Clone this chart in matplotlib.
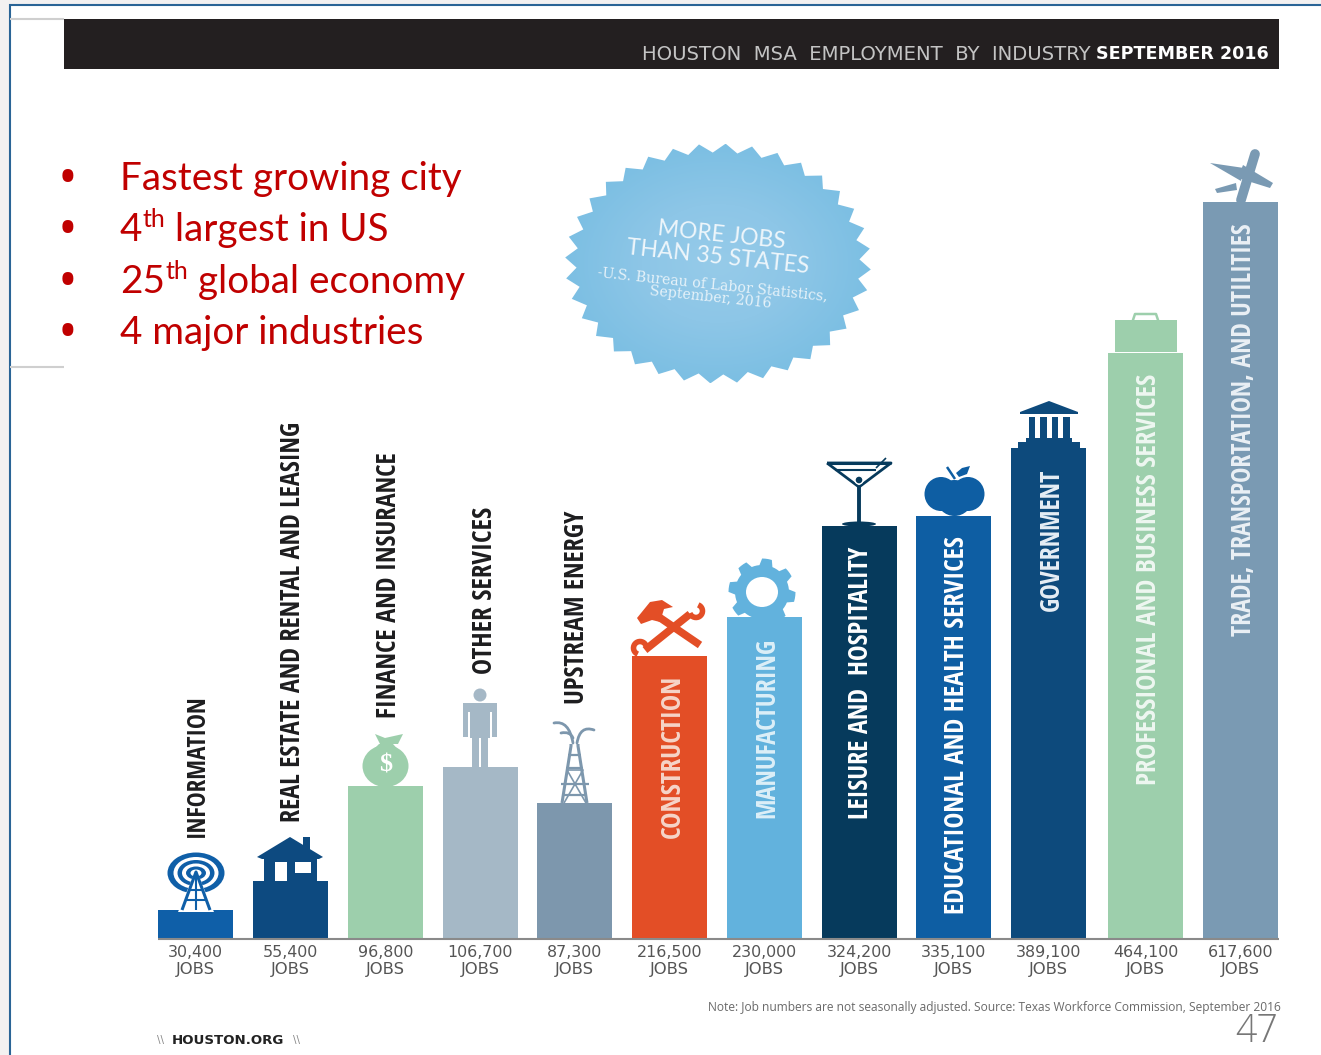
import numpy as np
import matplotlib
matplotlib.use("Agg")
import matplotlib.pyplot as plt
from matplotlib.colors import LinearSegmentedColormap
from matplotlib.patches import Polygon, Ellipse, Rectangle, Circle, PathPatch
from matplotlib.path import Path

# values as printed / as drawn (the bars of the original are not to scale)
industries = ["INFORMATION", "REAL ESTATE AND RENTAL AND LEASING", "FINANCE AND INSURANCE",
              "OTHER SERVICES", "UPSTREAM ENERGY", "CONSTRUCTION", "MANUFACTURING",
              "LEISURE AND  HOSPITALITY", "EDUCATIONAL AND HEALTH SERVICES", "GOVERNMENT",
              "PROFESSIONAL AND BUSINESS SERVICES", "TRADE, TRANSPORTATION, AND UTILITIES"]
job_labels = ["30,400", "55,400", "96,800", "106,700", "87,300", "216,500",
              "230,000", "324,200", "335,100", "389,100", "464,100", "617,600"]
bar_heights = [28, 57, 152, 171, 135, 282, 321, 412, 422, 490, 585, 736]
bar_colors = ["#0f5fa8", "#0d4a80", "#9dcfac", "#a5b8c6", "#7d97ad", "#e34e26",
              "#62b2dd", "#063a5c", "#0e5ea3", "#0d4a7c", "#9dcfac", "#7a9ab3"]
bullets = [["Fastest growing city"], ["4", "th", " largest in US"],
           ["25", "th", " global economy"], ["4 major industries"]]

W, H = 1321, 1055
BASE = 938
RED = "#c00000"

fig = plt.figure(figsize=(W / 100, H / 100), dpi=100, facecolor="white")

# bars: x is the industry index, y the drawn height above the baseline
chart = fig.add_axes([0, (H - BASE) / H, 1, BASE / H])
xpx = 195.8 + 94.75 * np.arange(12)
xpx[10:] += 2.5
chart.set_xlim(0, W)
chart.set_ylim(0, BASE)
chart.bar(xpx, bar_heights, width=75, color=bar_colors)
chart.axis("off")

# everything else sits on a pixel-sized overlay
ax = fig.add_axes([0, 0, 1, 1], facecolor="none")
ax.set_xlim(0, W)
ax.set_ylim(H, 0)
ax.axis("off")
renderer = fig.canvas.get_renderer()


def poly(pts, color, z=3):
    ax.add_patch(Polygon(pts, closed=True, fc=color, ec="none", zorder=z))


def rect(x0, y0, x1, y1, color, z=3):
    ax.add_patch(Rectangle((x0, y0), x1 - x0, y1 - y0, fc=color, ec="none", zorder=z))


def line(xs, ys, color, lw=1.5, z=3, cap="butt"):
    ax.plot(xs, ys, color=color, lw=lw, zorder=z, solid_capstyle=cap)


def curve(a, b, c, color, lw=2):
    p = Path([a, b, c], [Path.MOVETO, Path.CURVE3, Path.CURVE3])
    ax.add_patch(PathPatch(p, fc="none", ec=color, lw=lw, zorder=3, capstyle="round"))


def fit_length(t, target):
    # scale the font until the text's long side is target pixels
    box = t.get_window_extent(renderer)
    t.set_fontsize(t.get_fontsize() * target / max(box.width, box.height))


# slide frame
rect(0, 0, 9, H, "#f3f1f1", 1)
rect(0, 0, W, 4, "#f3f1f1", 1)
line([9.5, 9.5], [4, H], "#2a6496", 1.5)
line([9, W], [4.5, 4.5], "#2a6496", 1.5)
line([10, 64], [19, 19], "#cfcfcf", 1.5)
line([10, 64], [367, 367], "#cfcfcf", 1.5)

# header band
rect(64, 19, 1279, 69, "#231f20")
ax.text(642, 54, "HOUSTON  MSA  EMPLOYMENT  BY  INDUSTRY", color="#c4c4c4", fontsize=14.1,
        ha="left", va="center", family="DejaVu Sans")
ax.text(1269, 54, "SEPTEMBER 2016", color="white", fontsize=12.6, fontweight="bold",
        ha="right", va="center", family="DejaVu Sans")

# bullets, chained so the superscripts follow the run before them
for row, parts in zip([190, 241, 293, 344], bullets):
    ax.text(67, row - 8.5, "•", color=RED, fontsize=38, ha="center", va="center", family="Open Sans")
    x = 120
    for part in parts:
        sup = part == "th"
        t = ax.text(x, row - (14 if sup else 0), part, color=RED, fontsize=18 if sup else 27.8,
                    ha="left", va="baseline", family="Lato")
        x = ax.transData.inverted().transform(t.get_window_extent(renderer))[1, 0]

# starburst
n_teeth = 36
ang = np.linspace(0, 2 * np.pi, 2 * n_teeth, endpoint=False) + 0.05
rad = np.where(np.arange(2 * n_teeth) % 2 == 0, 1.0, 0.925)
burst_x = 718 + 153 * rad * np.cos(ang)
burst_y = 263.5 + 120 * rad * np.sin(ang)
burst = Polygon(np.c_[burst_x, burst_y], closed=True, fc="none", ec="none", zorder=2)
ax.add_patch(burst)
gx, gy = np.meshgrid(np.linspace(-1, 1, 200), np.linspace(-1, 1, 200))
glow = ax.imshow(np.hypot(gx, gy), extent=(565, 871, 383, 144),
                 cmap=LinearSegmentedColormap.from_list("seal", ["#96cbe9", "#8dc6e7", "#7cbfe3"]),
                 vmin=0, vmax=1, zorder=2, aspect="auto")
glow.set_clip_path(burst)
ax.set_xlim(0, W)
ax.set_ylim(H, 0)
ax.text(722, 235, "MORE JOBS", color="#eef6fb", fontsize=16.5, rotation=-6, ha="center", va="center",
        family="Lato", rotation_mode="anchor")
ax.text(718, 257, "THAN 35 STATES", color="#eef6fb", fontsize=16.5, rotation=-6, ha="center", va="center",
        family="Lato", rotation_mode="anchor")
ax.text(713, 284, "-U.S. Bureau of Labor Statistics,", color="#e6f2f9", fontsize=10.2, rotation=-6,
        ha="center", va="center", family="DejaVu Serif", rotation_mode="anchor")
ax.text(711, 297, "September, 2016", color="#e6f2f9", fontsize=10.2, rotation=-6, ha="center", va="center",
        family="DejaVu Serif", rotation_mode="anchor")

# baseline
line([158, 1279], [938.5, 938.5], "#8a8a8a", 1.5, z=4)

# industry names and job counts
name_x = [197, 293, 389, 485, 577, 672, 767, 861, 957, 1051, 1149, 1243]
name_base = [837, 822, 718, 674, 704, 838, 818, 819, 914, 611, 785, 636]
name_top = [694, 420, 451, 507, 510, 675, 637, 546, 535, 468, 374, 222]
name_colors = ["#1d1d1f"] * 5 + ["#f6d5c8", "#dceff8", "white", "white", "#e6eef5", "#eef7f1", "#eaf0f5"]
for i, name in enumerate(industries):
    t = ax.text(name_x[i], name_base[i], name, rotation=90, color=name_colors[i], fontsize=18,
                fontweight="bold", ha="center", va="bottom", family="Open Sans Condensed", zorder=5)
    fit_length(t, name_base[i] - name_top[i])
    ax.text(xpx[i], 952.5, job_labels[i], color="#555555", fontsize=11.4, ha="center", va="center",
            family="DejaVu Sans")
    ax.text(xpx[i], 969.5, "JOBS", color="#555555", fontsize=11.8, ha="center", va="center",
            family="DejaVu Sans")

# antenna
ant = bar_colors[0]
for w, h, c in [(57, 41, ant), (45, 32, "white"), (37, 26, ant), (28, 19, "white"), (20, 13, ant), (11, 7, "white")]:
    ax.add_patch(Ellipse((196, 873), w, h, fc=c, ec="none", zorder=3))
poly([(196, 870), (178, 912), (214, 912)], "white", 3)
line([182, 196, 210], [910, 872, 910], ant, 2.2)
line([196, 196], [872, 910], ant, 1.5)
line([189, 203], [890, 890], ant, 1.5)
line([185, 207], [900, 900], ant, 1.5)

# house
house = bar_colors[1]
rect(264, 856, 317, 882, house)
poly([(257, 857), (290, 837), (323, 857), (319, 859), (262, 859)], house)
rect(303, 837, 310, 851, house)
rect(275, 862, 287, 881, "white", 4)
rect(295, 862, 311, 873, "white", 4)

# money bag
bag = "#9dcfac"
poly([(375, 734), (385, 738), (403, 734), (398, 744), (380, 744)], bag)
ax.add_patch(Ellipse((385.5, 766), 46, 42, fc=bag, ec="none", zorder=3))
poly([(379, 744), (393, 744), (403, 755), (368, 755)], bag)
ax.text(385.5, 765, "$", color="white", fontsize=19, fontweight="bold", ha="center", va="center",
        family="Liberation Serif", zorder=4)

# person
man = bar_colors[3]
ax.add_patch(Circle((480, 695), 6.5, fc=man, ec="none", zorder=3))
rect(463, 703, 497, 712, man)
rect(463, 708, 468, 737, man)
rect(492, 708, 497, 737, man)
rect(470, 703, 490, 738, man)
rect(472, 736, 479, 767, man)
rect(481, 736, 488, 767, man)

# derrick and gusher
rig = bar_colors[4]
line([562, 571, 571], [803, 746, 744], rig, 2.2)
line([587, 578, 578], [803, 746, 744], rig, 2.2)
for yy, x0, x1 in [(755, 568, 581), (768, 566, 583), (784, 561, 589), (795, 563, 586)]:
    line([x0, x1], [yy, yy], rig, 1.6)
line([564, 583, 567, 586], [803, 770, 770, 803], rig, 1.2)
curve((573, 743), (569, 720), (554, 723), rig)
curve((573, 738), (570, 731), (561, 733), rig)
curve((577, 743), (580, 725), (594, 730), rig)

# hammer and wrench
tool = bar_colors[5]
line([653, 700], [613, 645], tool, 5.5)
poly([(637, 618), (650, 602), (662, 600), (673, 607), (664, 609), (660, 622), (652, 620), (641, 624)], tool)
line([645, 690], [650, 614], tool, 5.5)
for cx, cy, a0 in [(696, 611, -70), (640, 648, 110)]:
    a = np.radians(np.linspace(a0, a0 + 230, 20))
    line(cx + 6.5 * np.cos(a), cy + 6.5 * np.sin(a), tool, 4)

# gear
gear = bar_colors[6]
a = np.linspace(0, 2 * np.pi, 64, endpoint=False) + 0.2
r = np.where(((np.arange(64) + 2) % 8) < 4, 33.5, 27)
poly(np.c_[762 + r * np.cos(a), 592 + r * np.sin(a)], gear)
ax.add_patch(Ellipse((762, 592), 32, 30, fc="white", ec="none", zorder=4))
rect(755, 610, 769, 618, gear)

# martini
drink = bar_colors[7]
line([827, 891], [463, 463], drink, 2.2)
line([827, 859, 891, 827], [463, 487, 463, 463], drink, 2)
line([835, 876], [470, 470], drink, 1.5)
line([876, 886], [468, 458], drink, 1.2)
line([859, 859], [487, 523], drink, 2.8)
ax.add_patch(Circle((859, 480), 4, fc=drink, ec="white", lw=1, zorder=4))
ax.add_patch(Ellipse((859, 524), 34, 5, fc=drink, ec="none", zorder=3))

# apple
apple = bar_colors[8]
ax.add_patch(Ellipse((941, 494), 33, 34, fc=apple, ec="none", zorder=3))
ax.add_patch(Ellipse((968, 494), 33, 34, fc=apple, ec="none", zorder=3))
ax.add_patch(Ellipse((954.5, 498), 36, 36, fc=apple, ec="none", zorder=3))
line([947, 955], [467, 479], apple, 1.8)
poly([(956, 473), (962, 468), (970, 466), (967, 474), (959, 477)], apple)

# capitol
gov = bar_colors[9]
poly([(1020, 412), (1049, 401), (1078, 412), (1078, 414), (1020, 414)], gov)
for cx in [1032, 1043.5, 1055, 1066.5]:
    rect(cx - 3.2, 417, cx + 3.2, 441, gov)
rect(1026, 438, 1072, 444, gov)
rect(1018, 442, 1080, 449, gov)

# briefcase
case = bar_colors[10]
rect(1115, 320, 1177, 352, case)
ax.plot([1133, 1135, 1156, 1158], [320, 314, 314, 320], color=case, lw=1.8, zorder=3)

# plane
plane = bar_colors[11]
line([1255, 1241], [154, 200], plane, 7, cap="round")
poly([(1210, 163), (1244, 168), (1241, 181)], plane)
poly([(1243, 165), (1273, 183), (1270, 188), (1238, 178)], plane)
poly([(1215, 189), (1236, 183), (1237, 190), (1217, 193)], plane)

# footer
ax.text(1281, 1007, "Note: Job numbers are not seasonally adjusted. Source: Texas Workforce Commission, September 2016",
        color="#6a6a6a", fontsize=8.66, ha="right", va="center", family="Open Sans")
ax.text(1278, 1032, "47", color="#777777", fontsize=27, ha="right", va="center", family="Open Sans", fontweight="light")
ax.text(157, 1040, "\\\\", color="#888888", fontsize=7.5, ha="left", va="center", family="DejaVu Sans")
ax.text(172, 1040, "HOUSTON.ORG", color="#222222", fontsize=9.6, fontweight="bold", ha="left", va="center", family="DejaVu Sans")
ax.text(293, 1040, "\\\\", color="#888888", fontsize=7.5, ha="left", va="center", family="DejaVu Sans")

fig.savefig("out.png", dpi=100)
